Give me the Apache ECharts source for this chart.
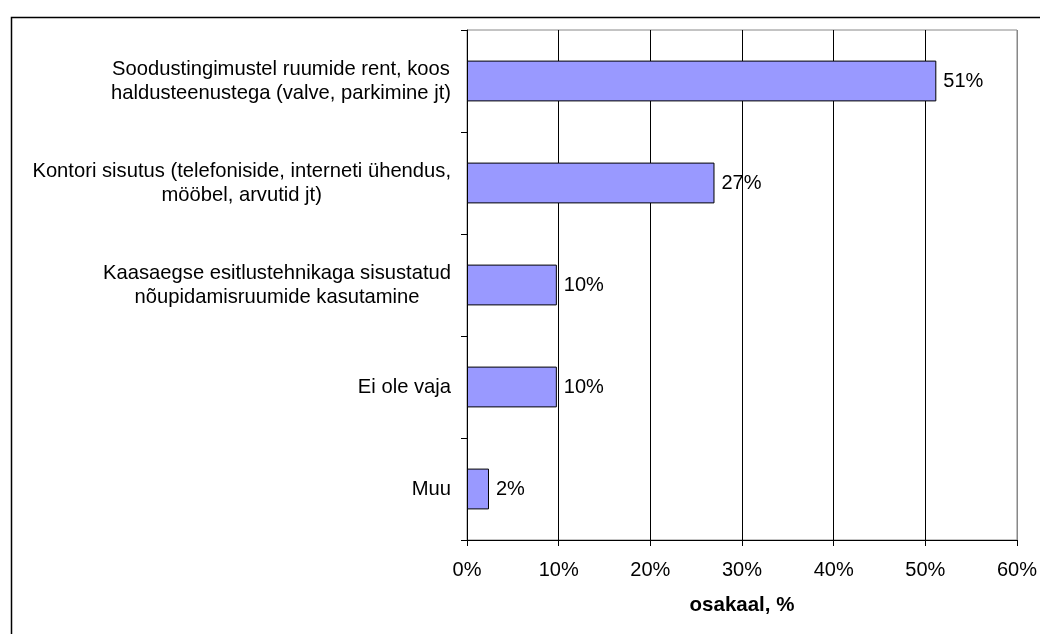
<!DOCTYPE html>
<html>
<head>
    <meta charset="utf-8">
    <title>osakaal</title>
    <script src="https://cdn.jsdelivr.net/npm/echarts@6/dist/echarts.min.js"></script>
    <style>
        html, body { margin: 0; padding: 0; background: #fff; }
    </style>
</head>
<body>
    <div id="chartwin" style="width: 1040px;height:634px;"></div>
    <script type="text/javascript">
// kategooriad (ülevalt alla)
var categories = [
    'Soodustingimustel ruumide rent, koos\nhaldusteenustega (valve, parkimine jt)',
    'Kontori sisutus (telefoniside, interneti ühendus,\nmööbel, arvutid jt)',
    'Kaasaegse esitlustehnikaga sisustatud\nnõupidamisruumide kasutamine',
    'Ei ole vaja',
    'Muu'
];
// osakaal, %
var values = [51.2, 27.0, 9.8, 9.8, 2.4];
var xTicks = [0, 10, 20, 30, 40, 50, 60];

var myChart = echarts.init(document.getElementById('chartwin'));
var font = '"Liberation Sans", Arial, sans-serif';

option = {
    animation: false,
    backgroundColor: '#fff',
    textStyle: {fontFamily: font},
    graphic: [
        // raam ümber diagrammi
        {type: 'rect', left: 9, top: 15, silent: true,
         shape: {width: 1100, height: 700},
         style: {fill: 'none', stroke: '#000', lineWidth: 1.5}}
    ],
    grid: {
        left: 467, right: 21, top: 30, bottom: 94,
        show: true, borderColor: '#888', borderWidth: 1
    },
    xAxis: {
        type: 'value',
        min: xTicks[0], max: xTicks[xTicks.length - 1], interval: 10,
        name: 'osakaal, %',
        nameLocation: 'middle',
        nameGap: 55,
        nameTextStyle: {fontFamily: font, fontSize: 20.5, fontWeight: 'bold', color: '#000'},
        axisLine: {show: true, lineStyle: {color: '#000', width: 1}},
        axisTick: {show: true, length: 6, lineStyle: {color: '#000'}},
        axisLabel: {formatter: '{value}%', fontFamily: font, fontSize: 20, color: '#000', margin: 20},
        splitLine: {show: true, lineStyle: {color: ['#000', '#000', '#000', '#000', '#000', '#000', '#888'], width: 1}}
    },
    yAxis: {
        type: 'category',
        inverse: true,
        data: categories,
        axisLine: {show: true, lineStyle: {color: '#000', width: 1}},
        axisTick: {show: true, length: 6, lineStyle: {color: '#000'}},
        axisLabel: {
            margin: 16,
            align: 'right',
            formatter: function (v) {
                return v.split('\n').map(function (s) { return '{c|' + s + '}'; }).join('\n');
            },
            rich: {
                c: {align: 'center', fontFamily: font, fontSize: 20.2, lineHeight: 24, color: '#000'}
            }
        }
    },
    series: [
        {
            type: 'bar',
            data: values,
            barCategoryGap: '60%',
            itemStyle: {color: '#9999ff', borderColor: '#000', borderWidth: 1},
            label: {
                show: true,
                position: 'right',
                distance: 7,
                fontFamily: font,
                fontSize: 20,
                color: '#000',
                formatter: function (p) { return Math.round(p.value) + '%'; }
            }
        }
    ]
};

myChart.setOption(option);
    </script>
</body>
</html>
